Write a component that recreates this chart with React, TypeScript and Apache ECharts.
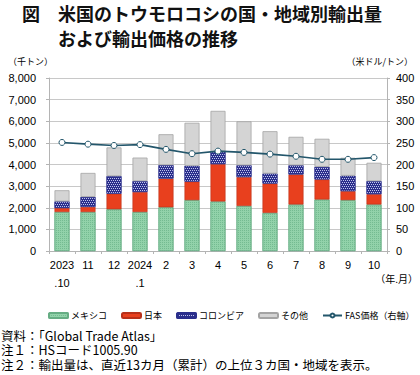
import React, { useEffect, useRef } from "react";
import * as echarts from "echarts";

const categories = ["2023\n.10", "11", "12", "2024\n.1", "2", "3", "4", "5", "6", "7", "8", "9", "10"];
const mexico = [1800, 1800, 1930, 1800, 2020, 2350, 2290, 2080, 1760, 2150, 2380, 2350, 2150];
const japan = [190, 240, 720, 930, 1330, 860, 1730, 1340, 1360, 1390, 930, 420, 480];
const colombia = [300, 460, 810, 500, 620, 730, 570, 540, 460, 420, 580, 710, 600];
const others = [520, 1110, 1330, 1090, 1430, 1990, 1890, 2040, 1960, 1320, 1300, 830, 850];
const fasPrice = [251, 247, 244, 246, 235, 225, 231, 228, 224, 219, 212, 212, 216];

const leftTicks = { min: 0, max: 8000, interval: 1000 };
const rightTicks = { min: 0, max: 400, interval: 50 };

const notes = [
  "資料：「Global Trade Atlas」",
  "注１：HSコード1005.90",
  "注２：輸出量は、直近13カ月（累計）の上位３カ国・地域を表示。",
];

const FONT = '"Liberation Sans", "Noto Sans CJK JP", sans-serif';
const JFONT = '"Noto Sans CJK JP", sans-serif';

export default function App() {
  const ref = useRef<HTMLDivElement>(null);
  useEffect(() => {
    if (!ref.current) return;
    const chart = echarts.init(ref.current, null, { renderer: "svg" });
    const axisGray = "#b4b4b4";
    const option: any = {
      animation: false,
      backgroundColor: "#ffffff",
      textStyle: { fontFamily: FONT },
      grid: { left: 49, right: 33, top: 78, height: 173 },
      legend: {
        left: 48,
        top: 311,
        width: 372,
        padding: 0,
        itemWidth: 19,
        itemHeight: 5,
        itemGap: 14,
        textStyle: { fontSize: 9, color: "#000", fontFamily: JFONT, padding: [0, 0, 0, -2] },
        data: ["メキシコ", "日本", "コロンビア", "その他", "FAS価格（右軸）"],
      },
      xAxis: {
        type: "category",
        data: categories,
        axisLine: { lineStyle: { color: axisGray } },
        axisTick: { show: true, length: 3, lineStyle: { color: axisGray } },
        axisLabel: { fontSize: 11, color: "#000", lineHeight: 18, margin: 5, interval: 0, fontFamily: FONT },
      },
      yAxis: [
        {
          type: "value",
          ...leftTicks,
          axisLine: { show: true, lineStyle: { color: axisGray } },
          axisTick: { show: true, length: 3, lineStyle: { color: axisGray } },
          splitLine: { lineStyle: { color: "#c8c8c8" } },
          axisLabel: {
            fontSize: 11,
            color: "#000",
            margin: 13,
            fontFamily: FONT,
            formatter: (v: number) => v.toLocaleString("en-US"),
          },
        },
        {
          type: "value",
          ...rightTicks,
          position: "right",
          axisLine: { show: true, lineStyle: { color: axisGray } },
          axisTick: { show: true, length: 3, lineStyle: { color: axisGray } },
          splitLine: { show: false },
          axisLabel: { fontSize: 11, color: "#000", margin: 9, fontFamily: FONT },
        },
      ],
      series: [
        {
          name: "メキシコ",
          type: "bar",
          stack: "t",
          barWidth: 15,
          data: mexico,
          itemStyle: {
            color: "#92d2aa",
            borderColor: "#66ad84",
            borderWidth: 0.6,
            decal: {
              symbol: "rect",
              symbolSize: 1,
              color: "#74bb91",
              dashArrayX: [1, 1],
              dashArrayY: [1, 1],
            },
          },
        },
        {
          name: "日本",
          type: "bar",
          stack: "t",
          data: japan,
          itemStyle: { color: "#e8401e", borderColor: "#b8301a", borderWidth: 0.6 },
        },
        {
          name: "コロンビア",
          type: "bar",
          stack: "t",
          data: colombia,
          itemStyle: {
            color: "#2b2f8c",
            borderColor: "#2b2f8c",
            borderWidth: 0.6,
            decal: {
              symbol: "rect",
              symbolSize: 1,
              color: "rgba(220,225,255,0.85)",
              dashArrayX: [[1, 1], [0, 1, 1, 0]],
              dashArrayY: [1, 0.001],
            },
          },
        },
        {
          name: "その他",
          type: "bar",
          stack: "t",
          data: others,
          itemStyle: { color: "#d4d4d4", borderColor: "#a4a4a4", borderWidth: 0.8 },
        },
        {
          name: "FAS価格（右軸）",
          type: "line",
          yAxisIndex: 1,
          data: fasPrice,
          symbol: "circle",
          symbolSize: 6,
          lineStyle: { color: "#23566b", width: 1.6 },
          itemStyle: { color: "#ffffff", borderColor: "#23566b", borderWidth: 1 },
          z: 5,
        },
      ],
      graphic: [
        {
          type: "text",
          left: 22,
          top: 3,
          style: { text: "図　米国のトウモロコシの国・地域別輸出量", fontSize: 18, lineHeight: 20, fontWeight: "bold", fill: "#111", fontFamily: JFONT },
        },
        {
          type: "text",
          left: 58,
          top: 28,
          style: { text: "および輸出価格の推移", fontSize: 18, lineHeight: 20, fontWeight: "bold", fill: "#111", fontFamily: JFONT },
        },
        {
          type: "text",
          left: 8,
          top: 57,
          style: { text: "（千トン）", fontSize: 9, fill: "#000", fontFamily: JFONT },
        },
        {
          type: "text",
          right: 7,
          top: 57,
          style: { text: "（米ドル/トン）", fontSize: 9, fill: "#000", fontFamily: JFONT },
        },
        {
          type: "text",
          right: 2,
          top: 273,
          style: { text: "（年.月）", fontSize: 10, fill: "#000", fontFamily: JFONT },
        },
        {
          type: "text",
          left: 1,
          top: 328,
          style: { text: notes.join("\n"), fontSize: 12.5, lineHeight: 14.5, fill: "#000", fontFamily: JFONT },
        },
      ],
    };
    chart.setOption(option);
    return () => chart.dispose();
  }, []);
  return (
    <div
      ref={ref}
      style={{ position: "fixed", left: 0, top: 0, width: 420, height: 375, background: "#fff" }}
    />
  );
}
